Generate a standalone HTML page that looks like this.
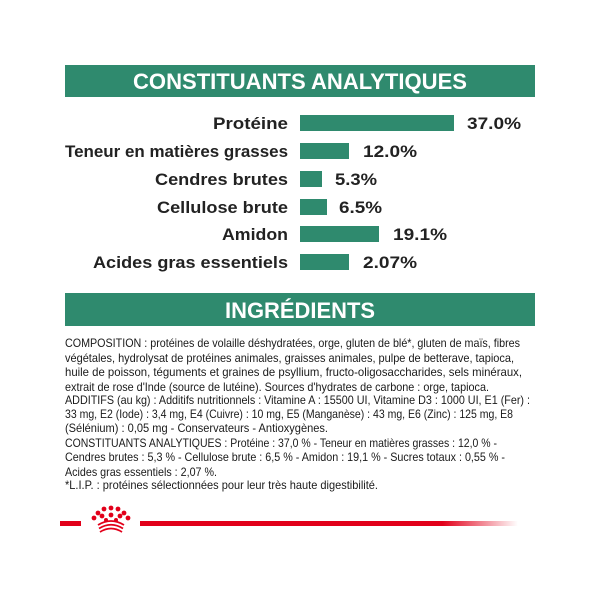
<!DOCTYPE html>
<html><head><meta charset="utf-8"><style>
html,body{margin:0;padding:0;background:#fff}
svg{display:block}
text{font-family:"Liberation Sans",sans-serif}
</style></head><body>
<svg width="600" height="600" viewBox="0 0 600 600" xmlns="http://www.w3.org/2000/svg">
<rect x="0" y="0" width="600" height="600" fill="#fff"/>
<rect x="65" y="65" width="470" height="32" fill="#2f8a6e"/>
<text x="300" y="89" text-anchor="middle" fill="#fff" font-weight="bold" font-size="22" textLength="334" lengthAdjust="spacingAndGlyphs">CONSTITUANTS ANALYTIQUES</text>
<g fill="#2f8a6e">
<rect x="300" y="115" width="154" height="16"/>
<rect x="300" y="143" width="49" height="16"/>
<rect x="300" y="171" width="22" height="16"/>
<rect x="300" y="199" width="27" height="16"/>
<rect x="300" y="226" width="79" height="16"/>
<rect x="300" y="254" width="49" height="16"/>
</g>
<g fill="#222" font-size="17" font-weight="bold">
<text x="288" y="129" text-anchor="end" textLength="75" lengthAdjust="spacingAndGlyphs">Protéine</text>
<text x="288" y="157" text-anchor="end" textLength="223" lengthAdjust="spacingAndGlyphs">Teneur en matières grasses</text>
<text x="288" y="185" text-anchor="end" textLength="133" lengthAdjust="spacingAndGlyphs">Cendres brutes</text>
<text x="288" y="213" text-anchor="end" textLength="131" lengthAdjust="spacingAndGlyphs">Cellulose brute</text>
<text x="288" y="240" text-anchor="end" textLength="66" lengthAdjust="spacingAndGlyphs">Amidon</text>
<text x="288" y="268" text-anchor="end" textLength="195" lengthAdjust="spacingAndGlyphs">Acides gras essentiels</text>
<text x="467" y="129" textLength="54" lengthAdjust="spacingAndGlyphs">37.0%</text>
<text x="363" y="157" textLength="54" lengthAdjust="spacingAndGlyphs">12.0%</text>
<text x="335" y="185" textLength="42" lengthAdjust="spacingAndGlyphs">5.3%</text>
<text x="339" y="213" textLength="43" lengthAdjust="spacingAndGlyphs">6.5%</text>
<text x="393" y="240" textLength="54" lengthAdjust="spacingAndGlyphs">19.1%</text>
<text x="363" y="268" textLength="54" lengthAdjust="spacingAndGlyphs">2.07%</text>
</g>
<rect x="65" y="293" width="470" height="33" fill="#2f8a6e"/>
<text x="300" y="318" text-anchor="middle" fill="#fff" font-weight="bold" font-size="22" textLength="150" lengthAdjust="spacingAndGlyphs">INGRÉDIENTS</text>
<g fill="#1a1a1a" font-size="12">
<text x="65" y="347" textLength="455" lengthAdjust="spacingAndGlyphs">COMPOSITION : protéines de volaille déshydratées, orge, gluten de blé*, gluten de maïs, fibres</text>
<text x="65" y="362" textLength="449" lengthAdjust="spacingAndGlyphs">végétales, hydrolysat de protéines animales, graisses animales, pulpe de betterave, tapioca,</text>
<text x="65" y="376" textLength="457" lengthAdjust="spacingAndGlyphs">huile de poisson, téguments et graines de psyllium, fructo-oligosaccharides, sels minéraux,</text>
<text x="65" y="391" textLength="424" lengthAdjust="spacingAndGlyphs">extrait de rose d'Inde (source de lutéine). Sources d'hydrates de carbone : orge, tapioca.</text>
<text x="65" y="404" textLength="465" lengthAdjust="spacingAndGlyphs">ADDITIFS (au kg) : Additifs nutritionnels : Vitamine A : 15500 UI, Vitamine D3 : 1000 UI, E1 (Fer) :</text>
<text x="65" y="418" textLength="448" lengthAdjust="spacingAndGlyphs">33 mg, E2 (Iode) : 3,4 mg, E4 (Cuivre) : 10 mg, E5 (Manganèse) : 43 mg, E6 (Zinc) : 125 mg, E8</text>
<text x="65" y="432" textLength="263" lengthAdjust="spacingAndGlyphs">(Sélénium) : 0,05 mg - Conservateurs - Antioxygènes.</text>
<text x="65" y="447" textLength="432" lengthAdjust="spacingAndGlyphs">CONSTITUANTS ANALYTIQUES : Protéine : 37,0 % - Teneur en matières grasses : 12,0 % -</text>
<text x="65" y="461" textLength="440" lengthAdjust="spacingAndGlyphs">Cendres brutes : 5,3 % - Cellulose brute : 6,5 % - Amidon : 19,1 % - Sucres totaux : 0,55 % -</text>
<text x="65" y="476" textLength="152" lengthAdjust="spacingAndGlyphs">Acides gras essentiels : 2,07 %.</text>
<text x="65" y="489" textLength="313" lengthAdjust="spacingAndGlyphs">*L.I.P. : protéines sélectionnées pour leur très haute digestibilité.</text>
</g>
<defs><linearGradient id="fade" x1="0" x2="1" y1="0" y2="0">
<stop offset="0" stop-color="#e2001a"/><stop offset="0.8" stop-color="#e2001a"/><stop offset="1" stop-color="#e2001a" stop-opacity="0"/></linearGradient></defs>
<rect x="60" y="521" width="21" height="5" fill="#e2001a"/>
<rect x="140" y="521" width="378" height="5" fill="url(#fade)"/>
<g fill="#e2001a">
<circle cx="98" cy="513" r="2.4"/><circle cx="104" cy="509" r="2.4"/><circle cx="111" cy="508" r="2.4"/><circle cx="118" cy="509" r="2.4"/><circle cx="124" cy="513" r="2.4"/>
<circle cx="94" cy="518" r="2.4"/><circle cx="102" cy="516" r="2.4"/><circle cx="111" cy="515" r="2.4"/><circle cx="120" cy="516" r="2.4"/><circle cx="128" cy="518" r="2.4"/>
<circle cx="106" cy="520" r="2"/><circle cx="116" cy="520" r="2"/>
</g>
<g fill="none" stroke="#e2001a" stroke-width="1.8">
<path d="M98 525 Q111 517 124 525"/><path d="M99 528.5 Q111 521 123 528.5"/><path d="M100 532 Q111 525 122 532"/>
</g>
</svg>
</body></html>
